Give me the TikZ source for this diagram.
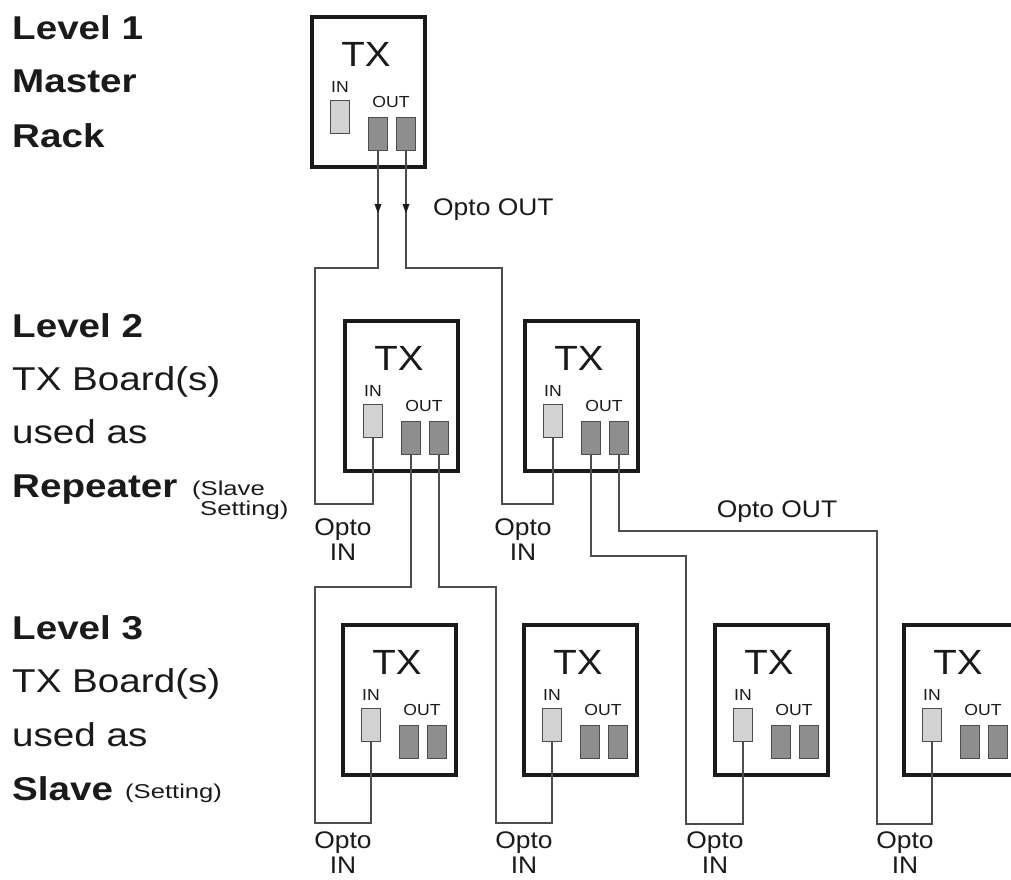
\documentclass[tikz,border=0pt]{standalone}
\usepackage{fontspec}
\setmainfont{Liberation Sans}
\usetikzlibrary{arrows.meta,decorations.markings}
\definecolor{ink}{HTML}{1A1A1A}
\definecolor{wirec}{HTML}{4D4D4D}
\definecolor{inport}{HTML}{D2D2D2}
\definecolor{outport}{HTML}{8E8E8E}
\newcommand\sx[1]{\scalebox{1.1}[1]{#1}}
\newcommand\lx[1]{\scalebox{1.17}[1]{#1}}
\newcommand\smx[1]{\scalebox{1.28}[1]{#1}}
\tikzset{
  txframe/.style={draw=ink, line width=4.2pt, fill=white, minimum width=113.3pt, minimum height=150.3pt, inner sep=0pt},
  txlabel/.style={text=ink, font=\fontsize{35}{40}\selectfont, inner sep=0pt},
  portlabel/.style={text=ink, font=\fontsize{16}{19}\selectfont, inner sep=0pt},
  inbox/.style={draw=wirec, line width=1.3pt, fill=inport, minimum width=19pt, minimum height=33pt, inner sep=0pt},
  outbox/.style={draw=wirec, line width=1.3pt, fill=outport, minimum width=19pt, minimum height=33pt, inner sep=0pt},
  wire/.style={draw=wirec, line width=1.3pt},
  optolabel/.style={text=ink, font=\fontsize{24}{28}\selectfont, inner sep=0pt},
  levelhead/.style={text=ink, font=\fontsize{33}{40}\selectfont\bfseries, inner sep=0pt, anchor=base west},
  levelbody/.style={text=ink, font=\fontsize{33}{40}\selectfont, inner sep=0pt, anchor=base west},
  levelsmall/.style={text=ink, font=\fontsize{20}{24}\selectfont, inner sep=0pt, anchor=base west},
  arrowmark/.style={postaction={decorate}, decoration={markings, mark=at position 58pt with {\fill[ink] (4pt,0pt) -- (-5pt,3.5pt) -- (-5pt,-3.5pt) -- cycle;}}}
}
\newcommand\txunit[3]{%
  \begin{scope}[shift={(#2,#3)}]
    \node[txframe] (#1) at (58.5,77) {};
    \node[txlabel, anchor=base] (#1tx) at (56,51) {\sx{TX}};
    \node[portlabel, anchor=base] (#1inl) at (30,77) {\sx{IN}};
    \node[portlabel, anchor=base] (#1outl) at (81,92) {\sx{OUT}};
    \node[inbox] (#1in) at (30,102) {};
    \node[outbox] (#1o1) at (68,119) {};
    \node[outbox] (#1o2) at (96,119) {};
  \end{scope}}
\newcommand\optoin[3]{%
  \node[optolabel, anchor=base] (#1a) at (#2,#3) {\sx{Opto}};
  \node[optolabel, anchor=base] (#1b) at (#2,#3+25) {\sx{IN}};}
\begin{document}
\begin{tikzpicture}[x=1pt,y=-1pt]
\clip (0,0) rectangle (1011,879);
\fill[white] (0,0) rectangle (1011,879);
% left column
\node[levelhead] (l1a) at (12,39) {\lx{Level 1}};
\node[levelhead] (l1b) at (12,92) {\lx{Master}};
\node[levelhead] (l1c) at (12,147) {\lx{Rack}};
\node[levelhead] (l2a) at (12,337) {\lx{Level 2}};
\node[levelbody] (l2b) at (12,390) {\lx{TX Board(s)}};
\node[levelbody] (l2c) at (12,443) {\lx{used as}};
\node[levelhead] (l2d) at (12,497) {\lx{Repeater}};
\node[levelsmall] (l2e) at (192,495) {\smx{(Slave}};
\node[levelsmall] (l2f) at (200,515) {\smx{Setting)}};
\node[levelhead] (l3a) at (12,639) {\lx{Level 3}};
\node[levelbody] (l3b) at (12,692) {\lx{TX Board(s)}};
\node[levelbody] (l3c) at (12,746) {\lx{used as}};
\node[levelhead] (l3d) at (12,800) {\lx{Slave}};
\node[levelsmall] (l3e) at (125,798) {\smx{(Setting)}};
% units
\txunit{a}{310}{15}
\txunit{b}{343}{319}
\txunit{c}{523}{319}
\txunit{d}{341}{623}
\txunit{e}{522}{623}
\txunit{f}{713}{623}
\txunit{g}{902}{623}
% wires
\draw[wire, arrowmark] (ao1.south) |- (315,268) -- (315,504) -| (bin.south);
\draw[wire, arrowmark] (ao2.south) |- (502,268) -- (502,504) -| (cin.south);
\draw[wire] (bo1.south) |- (315,587) -- (315,823) -| (din.south);
\draw[wire] (bo2.south) |- (496,587) -- (496,823) -| (ein.south);
\draw[wire] (co1.south) |- (686,556) -- (686,824) -| (fin.south);
\draw[wire] (co2.south) |- (877,531) -- (877,824) -| (gin.south);
% labels
\node[optolabel, anchor=west] (oo1) at (433,210) {\sx{Opto OUT}};
\node[optolabel] (oo2) at (777,512) {\sx{Opto OUT}};
\optoin{ib}{343}{535}
\optoin{ic}{523}{535}
\optoin{id}{343}{848}
\optoin{ie}{524}{848}
\optoin{if}{715}{848}
\optoin{ig}{905}{848}
\end{tikzpicture}
\end{document}
